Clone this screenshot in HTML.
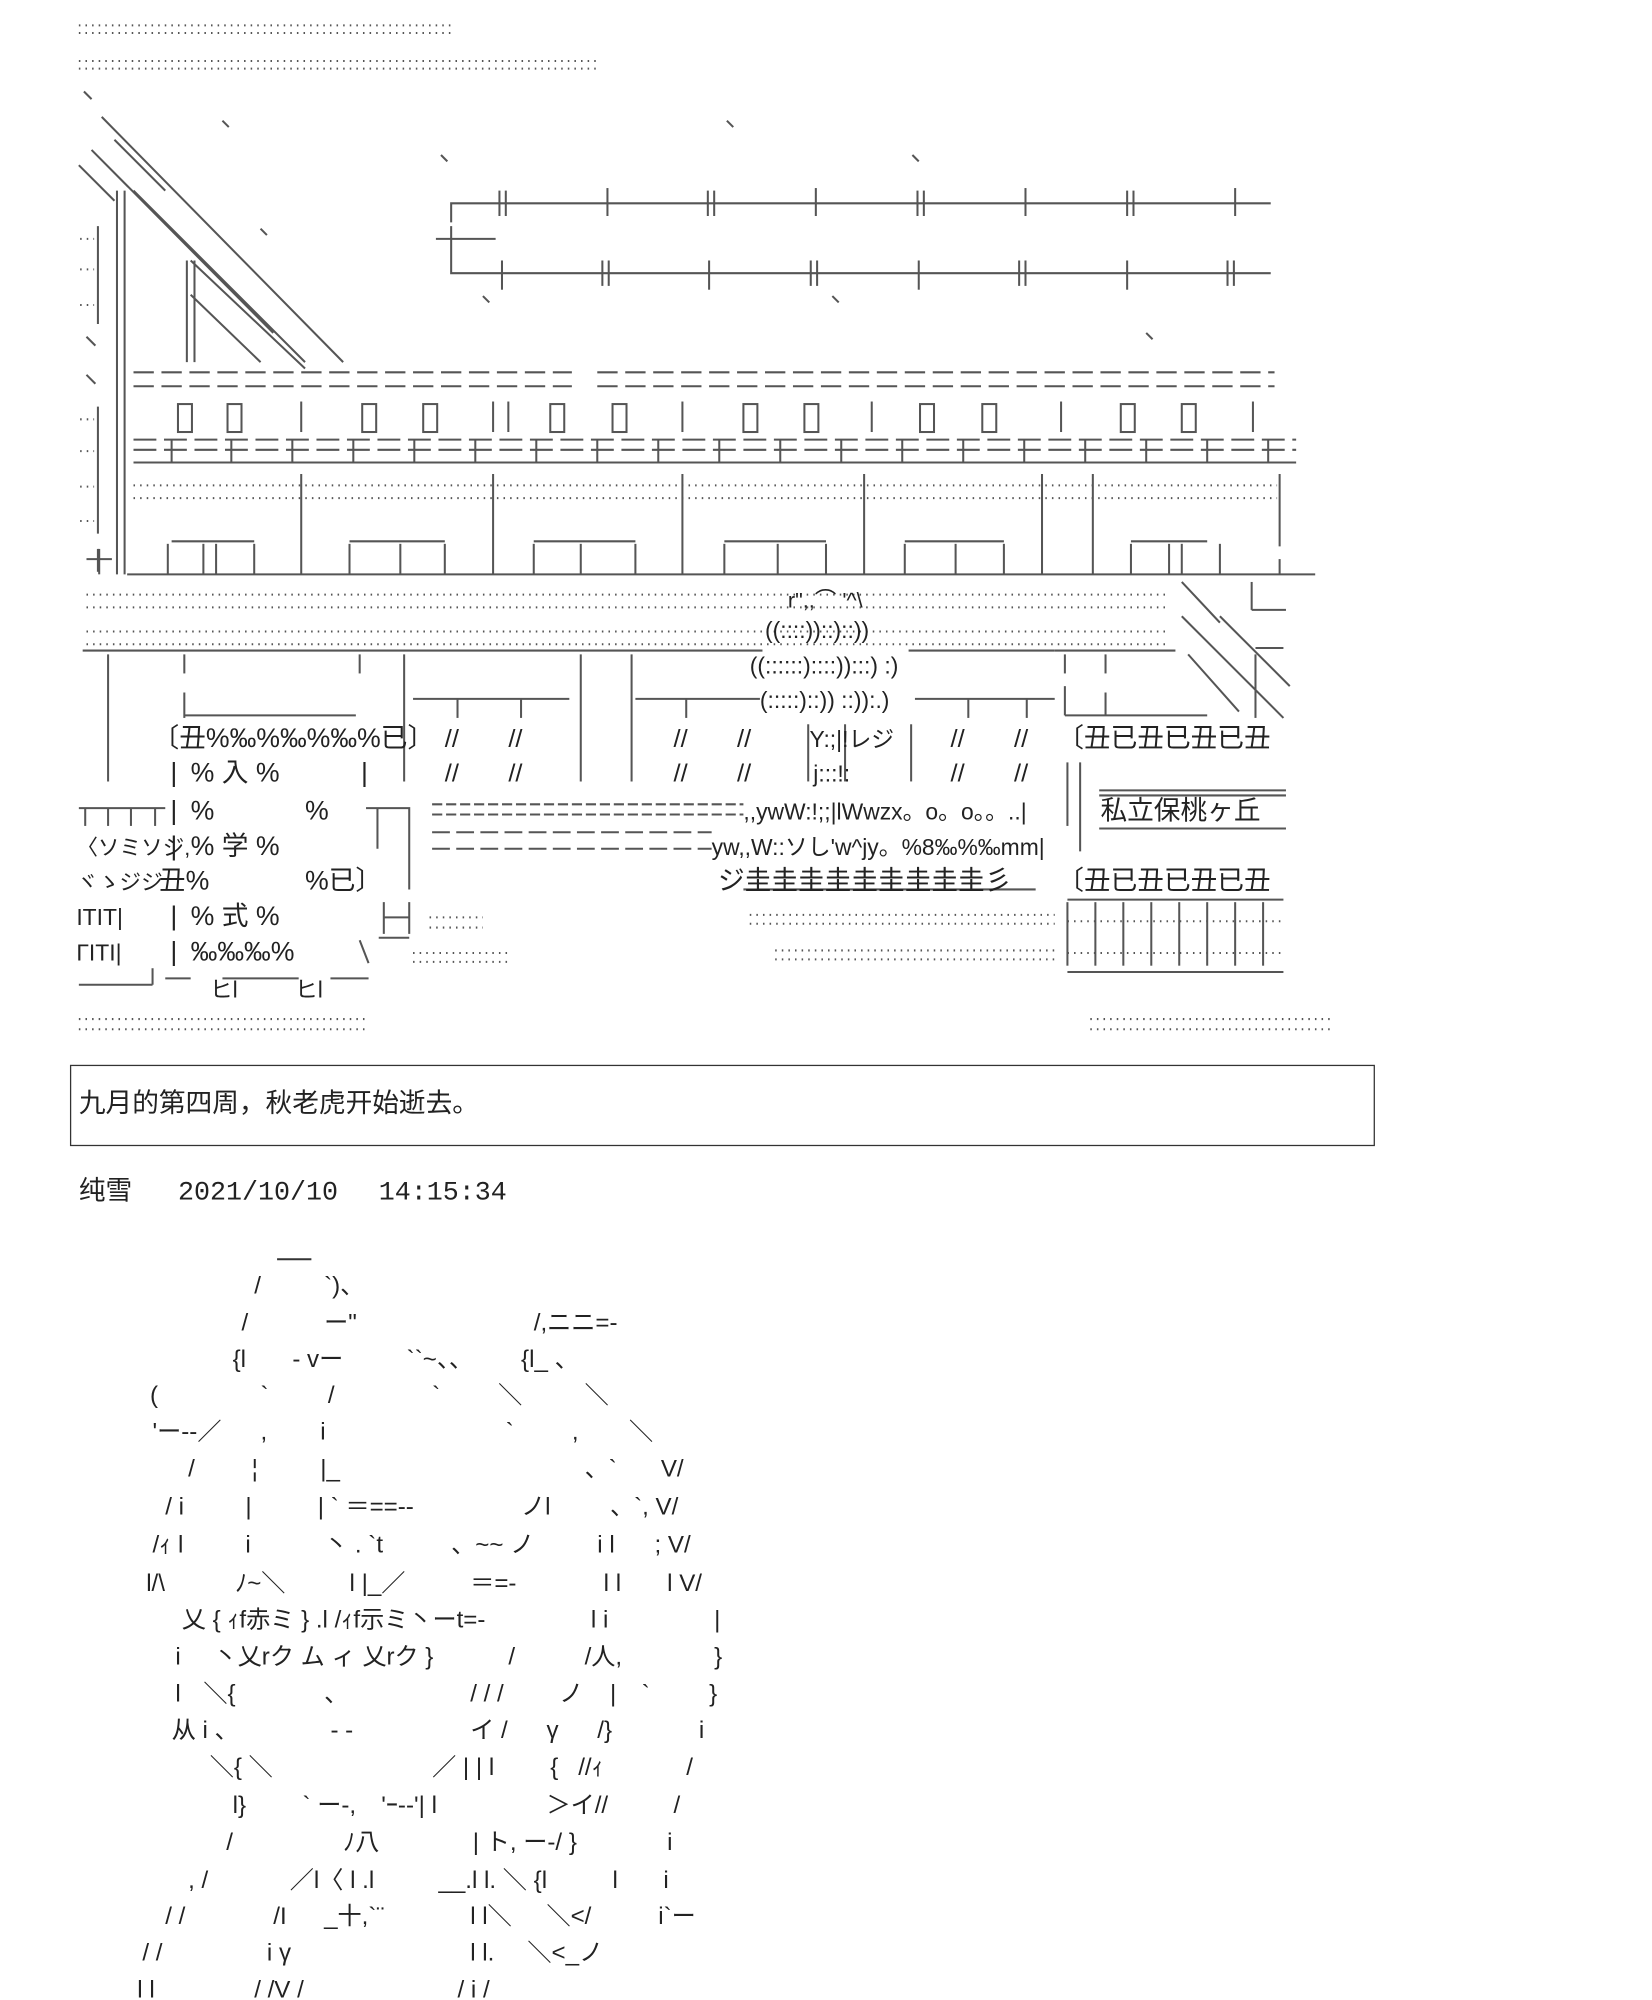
<!DOCTYPE html>
<html><head><meta charset="utf-8"><style>
html,body{margin:0;padding:0;background:#fff;}
svg{display:block;}
text{font-family:"Liberation Sans","Noto Sans CJK JP",sans-serif;fill:#222;}
.m{font-family:"Liberation Mono","Noto Sans CJK SC",monospace;}
.g line,.g path,.g rect{stroke:#555;stroke-width:1.6;fill:none;}
.d{stroke:#888;stroke-width:1.2;stroke-dasharray:1.2 4;}
</style></head><body>
<svg width="1652" height="2000" viewBox="0 0 1300 1574" xmlns="http://www.w3.org/2000/svg">
<g class="g">
<line class="d" x1="62" y1="20" x2="355" y2="20"/><line class="d" x1="62" y1="26" x2="355" y2="26"/>
<line class="d" x1="62" y1="48" x2="470" y2="48"/><line class="d" x1="62" y1="54" x2="470" y2="54"/>
<line x1="80" y1="92" x2="270" y2="285"/><line x1="72" y1="118" x2="215" y2="262"/>
<line x1="62" y1="130" x2="90" y2="158"/><line x1="105" y1="150" x2="240" y2="285"/>
<line x1="90" y1="110" x2="130" y2="150"/>
<line x1="150" y1="205" x2="240" y2="290"/><line x1="150" y1="232" x2="205" y2="285"/>
<line x1="66" y1="72" x2="72" y2="78"/><line x1="175" y1="95" x2="180" y2="100"/><line x1="572" y1="95" x2="577" y2="100"/>
<line x1="347" y1="122" x2="352" y2="127"/><line x1="718" y1="122" x2="723" y2="127"/><line x1="205" y1="180" x2="210" y2="185"/>
<line x1="380" y1="233" x2="385" y2="238"/><line x1="655" y1="233" x2="660" y2="238"/><line x1="902" y1="262" x2="907" y2="267"/>
<line x1="68" y1="265" x2="75" y2="272"/><line x1="68" y1="295" x2="75" y2="302"/>
<line x1="92" y1="150" x2="92" y2="452"/><line x1="98" y1="150" x2="98" y2="452"/>
<line x1="147" y1="205" x2="147" y2="285"/><line x1="153" y1="205" x2="153" y2="285"/>
<line x1="77" y1="178" x2="77" y2="255"/><line x1="77" y1="320" x2="77" y2="420"/>
<line x1="77" y1="432" x2="77" y2="450"/>
<line class="d" x1="63" y1="188" x2="74" y2="188"/><line class="d" x1="63" y1="212" x2="74" y2="212"/><line class="d" x1="63" y1="240" x2="74" y2="240"/>
<line class="d" x1="63" y1="330" x2="74" y2="330"/><line class="d" x1="63" y1="355" x2="74" y2="355"/><line class="d" x1="63" y1="383" x2="74" y2="383"/><line class="d" x1="63" y1="410" x2="74" y2="410"/>
<path d="M355 175 V160 H1000 M355 195 V215 H1000 M343 188 H390 M355 178 V200"/>
<line x1="393" y1="150" x2="393" y2="170"/><line x1="398" y1="150" x2="398" y2="170"/>
<line x1="478" y1="148" x2="478" y2="170"/><line x1="557" y1="150" x2="557" y2="170"/><line x1="562" y1="150" x2="562" y2="170"/>
<line x1="642" y1="148" x2="642" y2="170"/><line x1="722" y1="150" x2="722" y2="170"/><line x1="727" y1="150" x2="727" y2="170"/>
<line x1="807" y1="148" x2="807" y2="170"/><line x1="887" y1="150" x2="887" y2="170"/><line x1="892" y1="150" x2="892" y2="170"/><line x1="972" y1="148" x2="972" y2="170"/>
<line x1="395" y1="205" x2="395" y2="228"/><line x1="474" y1="205" x2="474" y2="225"/><line x1="479" y1="205" x2="479" y2="225"/>
<line x1="558" y1="205" x2="558" y2="228"/><line x1="638" y1="205" x2="638" y2="225"/><line x1="643" y1="205" x2="643" y2="225"/>
<line x1="723" y1="205" x2="723" y2="228"/><line x1="802" y1="205" x2="802" y2="225"/><line x1="807" y1="205" x2="807" y2="225"/>
<line x1="887" y1="205" x2="887" y2="228"/><line x1="966" y1="205" x2="966" y2="225"/><line x1="971" y1="205" x2="971" y2="225"/>
<line x1="105" y1="293" x2="450" y2="293" stroke-dasharray="16 6"/><line x1="105" y1="304" x2="450" y2="304" stroke-dasharray="16 6"/>
<line x1="470" y1="293" x2="1003" y2="293" stroke-dasharray="16 6"/><line x1="470" y1="304" x2="1003" y2="304" stroke-dasharray="16 6"/>
<rect x="140" y="318" width="11" height="22"/><rect x="179" y="318" width="11" height="22"/><rect x="285" y="318" width="11" height="22"/><rect x="333" y="318" width="11" height="22"/>
<rect x="433" y="318" width="11" height="22"/><rect x="482" y="318" width="11" height="22"/><rect x="585" y="318" width="11" height="22"/><rect x="633" y="318" width="11" height="22"/>
<rect x="724" y="318" width="11" height="22"/><rect x="773" y="318" width="11" height="22"/><rect x="882" y="318" width="11" height="22"/><rect x="930" y="318" width="11" height="22"/>
<line x1="237" y1="316" x2="237" y2="340"/><line x1="388" y1="316" x2="388" y2="340"/><line x1="400" y1="316" x2="400" y2="340"/><line x1="537" y1="316" x2="537" y2="340"/>
<line x1="686" y1="316" x2="686" y2="340"/><line x1="835" y1="316" x2="835" y2="340"/><line x1="986" y1="316" x2="986" y2="340"/>
<line x1="105" y1="346" x2="1020" y2="346" stroke-dasharray="18 6"/><line x1="105" y1="354" x2="1020" y2="354" stroke-dasharray="18 6"/><line x1="105" y1="364" x2="1020" y2="364"/>
<line x1="135" y1="346" x2="135" y2="364"/><line x1="182" y1="346" x2="182" y2="364"/><line x1="230" y1="346" x2="230" y2="364"/><line x1="278" y1="346" x2="278" y2="364"/>
<line x1="326" y1="346" x2="326" y2="364"/><line x1="374" y1="346" x2="374" y2="364"/><line x1="422" y1="346" x2="422" y2="364"/><line x1="470" y1="346" x2="470" y2="364"/>
<line x1="518" y1="346" x2="518" y2="364"/><line x1="566" y1="346" x2="566" y2="364"/><line x1="614" y1="346" x2="614" y2="364"/><line x1="662" y1="346" x2="662" y2="364"/>
<line x1="710" y1="346" x2="710" y2="364"/><line x1="758" y1="346" x2="758" y2="364"/><line x1="806" y1="346" x2="806" y2="364"/><line x1="854" y1="346" x2="854" y2="364"/>
<line x1="902" y1="346" x2="902" y2="364"/><line x1="950" y1="346" x2="950" y2="364"/><line x1="998" y1="346" x2="998" y2="364"/>
<line class="d" x1="105" y1="382" x2="1005" y2="382"/><line class="d" x1="105" y1="392" x2="1005" y2="392"/>
<line x1="237" y1="373" x2="237" y2="452"/><line x1="388" y1="373" x2="388" y2="452"/><line x1="537" y1="373" x2="537" y2="452"/><line x1="680" y1="373" x2="680" y2="452"/>
<line x1="820" y1="373" x2="820" y2="452"/><line x1="860" y1="373" x2="860" y2="452"/><line x1="1007" y1="373" x2="1007" y2="430"/>
<line x1="135" y1="426" x2="200" y2="426"/><line x1="275" y1="426" x2="350" y2="426"/><line x1="420" y1="426" x2="500" y2="426"/><line x1="570" y1="426" x2="650" y2="426"/><line x1="712" y1="426" x2="790" y2="426"/><line x1="890" y1="426" x2="950" y2="426"/>
<line x1="100" y1="452" x2="1035" y2="452"/>
<line x1="132" y1="428" x2="132" y2="452"/><line x1="160" y1="428" x2="160" y2="452"/><line x1="170" y1="428" x2="170" y2="452"/><line x1="200" y1="428" x2="200" y2="452"/>
<line x1="275" y1="428" x2="275" y2="452"/><line x1="315" y1="428" x2="315" y2="452"/><line x1="350" y1="428" x2="350" y2="452"/>
<line x1="420" y1="428" x2="420" y2="452"/><line x1="457" y1="428" x2="457" y2="452"/><line x1="500" y1="428" x2="500" y2="452"/>
<line x1="570" y1="428" x2="570" y2="452"/><line x1="612" y1="428" x2="612" y2="452"/><line x1="650" y1="428" x2="650" y2="452"/>
<line x1="712" y1="428" x2="712" y2="452"/><line x1="752" y1="428" x2="752" y2="452"/><line x1="790" y1="428" x2="790" y2="452"/>
<line x1="890" y1="428" x2="890" y2="452"/><line x1="920" y1="428" x2="920" y2="452"/><line x1="930" y1="428" x2="930" y2="452"/><line x1="960" y1="428" x2="960" y2="452"/><line x1="1007" y1="440" x2="1007" y2="452"/>
<line x1="68" y1="440" x2="88" y2="440"/><line x1="78" y1="432" x2="78" y2="452"/>
<line class="d" x1="68" y1="468" x2="920" y2="468"/><line class="d" x1="68" y1="478" x2="920" y2="478"/>
<line class="d" x1="68" y1="497" x2="920" y2="497"/><line class="d" x1="68" y1="507" x2="920" y2="507"/>
<line x1="930" y1="458" x2="960" y2="490"/><line x1="930" y1="485" x2="1010" y2="565"/><line x1="960" y1="485" x2="1015" y2="540"/><line x1="935" y1="515" x2="975" y2="560"/>
<line x1="985" y1="458" x2="985" y2="480"/><line x1="985" y1="480" x2="1012" y2="480"/><line x1="988" y1="510" x2="1010" y2="510"/><line x1="988" y1="515" x2="988" y2="565"/>
<line x1="65" y1="512" x2="600" y2="512"/><line x1="715" y1="512" x2="830" y2="512"/><line x1="830" y1="512" x2="925" y2="512"/>
<line x1="85" y1="515" x2="85" y2="615"/><line x1="145" y1="515" x2="145" y2="530"/><line x1="145" y1="545" x2="145" y2="565"/>
<line x1="283" y1="515" x2="283" y2="530"/><line x1="318" y1="515" x2="318" y2="615"/><line x1="457" y1="515" x2="457" y2="615"/><line x1="497" y1="515" x2="497" y2="615"/>
<line x1="838" y1="515" x2="838" y2="530"/><line x1="870" y1="515" x2="870" y2="530"/><line x1="838" y1="540" x2="838" y2="563"/><line x1="838" y1="563" x2="950" y2="563"/><line x1="870" y1="545" x2="870" y2="563"/>
<line x1="145" y1="563" x2="280" y2="563"/>
<line x1="325" y1="550" x2="448" y2="550"/><line x1="360" y1="550" x2="360" y2="565"/><line x1="410" y1="550" x2="410" y2="565"/>
<line x1="500" y1="550" x2="598" y2="550"/><line x1="540" y1="550" x2="540" y2="565"/><line x1="720" y1="550" x2="830" y2="550"/><line x1="762" y1="550" x2="762" y2="565"/><line x1="808" y1="550" x2="808" y2="565"/>
<line x1="636" y1="570" x2="636" y2="615"/><line x1="665" y1="570" x2="665" y2="615"/><line x1="717" y1="570" x2="717" y2="615"/><line x1="840" y1="600" x2="840" y2="650"/><line x1="850" y1="600" x2="850" y2="670"/>
<line x1="340" y1="633" x2="585" y2="633" stroke-dasharray="8 3"/><line x1="340" y1="641" x2="585" y2="641" stroke-dasharray="8 3"/>
<line x1="340" y1="655" x2="560" y2="655" stroke-dasharray="14 5"/><line x1="340" y1="668" x2="560" y2="668" stroke-dasharray="14 5"/>
<line x1="865" y1="622" x2="1012" y2="622"/><line x1="865" y1="652" x2="1012" y2="652"/><line x1="865" y1="626" x2="1012" y2="626"/>
<line x1="585" y1="700" x2="815" y2="700"/>
<line x1="62" y1="636" x2="130" y2="636" stroke-width="2.6"/><line x1="67" y1="636" x2="67" y2="650"/><line x1="85" y1="636" x2="85" y2="650"/><line x1="103" y1="636" x2="103" y2="650"/><line x1="122" y1="636" x2="122" y2="650"/>
<path d="M288 636 H322 V700 M297 636 V668" stroke-width="2.4"/><path d="M302 710 V735 M322 710 V735 M302 722 H322" stroke-width="2.4"/>
<line x1="298" y1="738" x2="322" y2="738"/><line x1="283" y1="740" x2="290" y2="758"/>
<line x1="62" y1="775" x2="120" y2="775"/><line x1="120" y1="762" x2="120" y2="775"/>
<line x1="130" y1="770" x2="150" y2="770"/><line x1="175" y1="770" x2="235" y2="770"/><line x1="260" y1="770" x2="290" y2="770"/>
<line x1="840" y1="708" x2="1010" y2="708"/><line x1="840" y1="765" x2="1010" y2="765"/>
<line x1="840" y1="710" x2="840" y2="760"/><line x1="862" y1="710" x2="862" y2="760"/><line x1="884" y1="710" x2="884" y2="760"/><line x1="906" y1="710" x2="906" y2="760"/><line x1="928" y1="710" x2="928" y2="760"/><line x1="950" y1="710" x2="950" y2="760"/><line x1="972" y1="710" x2="972" y2="760"/><line x1="994" y1="710" x2="994" y2="760"/>
<line class="d" x1="590" y1="720" x2="830" y2="720"/><line class="d" x1="590" y1="727" x2="830" y2="727"/><line class="d" x1="610" y1="748" x2="830" y2="748"/><line class="d" x1="610" y1="755" x2="830" y2="755"/>
<line class="d" x1="840" y1="725" x2="1010" y2="725"/><line class="d" x1="840" y1="750" x2="1010" y2="750"/>
<line class="d" x1="338" y1="722" x2="380" y2="722"/><line class="d" x1="338" y1="730" x2="380" y2="730"/><line class="d" x1="325" y1="750" x2="400" y2="750"/><line class="d" x1="325" y1="757" x2="400" y2="757"/>
<line class="d" x1="62" y1="802" x2="290" y2="802"/><line class="d" x1="62" y1="810" x2="290" y2="810"/><line class="d" x1="858" y1="802" x2="1050" y2="802"/><line class="d" x1="858" y1="810" x2="1050" y2="810"/>
</g>
<g font-size="21">
<text x="120" y="588">〔丑%‰%‰%‰%已〕</text>
<text x="150" y="615">%  入  %</text><text x="150" y="645">%</text><text x="240" y="645">%</text><text x="150" y="673">%  学  %</text>
<text x="125" y="700">丑%</text><text x="240" y="700">%已〕</text><text x="150" y="728">%  式  %</text><text x="150" y="756">‰‰‰%</text>
<text x="165" y="785" font-size="18">ヒl</text><text x="232" y="785" font-size="18">ヒl</text>
<text x="134" y="615">|</text><text x="284" y="615">|</text><text x="134" y="645">|</text><text x="134" y="673">|</text><text x="134" y="728">|</text><text x="134" y="756">|</text>
<text x="60" y="673" font-size="17">〈ソミソジ,</text><text x="60" y="700" font-size="17">ヾゝジジ</text>
<text x="60" y="728" font-size="18">ΙΤΙΤ|</text><text x="60" y="756" font-size="18">ΓΙΤΙ|</text>
<text x="350" y="588" font-size="20">//</text><text x="400" y="588" font-size="20">//</text><text x="350" y="615" font-size="20">//</text><text x="400" y="615" font-size="20">//</text>
<text x="530" y="588" font-size="20">//</text><text x="580" y="588" font-size="20">//</text><text x="530" y="615" font-size="20">//</text><text x="580" y="615" font-size="20">//</text>
<text x="748" y="588" font-size="20">//</text><text x="798" y="588" font-size="20">//</text><text x="748" y="615" font-size="20">//</text><text x="798" y="615" font-size="20">//</text>
<text x="637" y="588" font-size="18">Y:;|!レジ</text><text x="640" y="615" font-size="18">j:::!:</text>
<text x="832" y="588">〔丑已丑已丑已丑</text>
<text x="866" y="645">私立保桃ヶ丘</text>
<text x="832" y="700">〔丑已丑已丑已丑</text>
<text x="565" y="700">ジ圭圭圭圭圭圭圭圭圭彡</text>
<text x="585" y="645" font-size="18">,,ywW:!;;|lWwzx。o。o。。..|</text>
<text x="560" y="673" font-size="18">yw,,W::ソし'w^jy。%8‰%‰mm|</text>
<text x="620" y="478" font-size="17">r",,⌒ '^\</text>
<text x="602" y="502" font-size="18">((::::))::)::))</text>
<text x="590" y="530" font-size="18">((::::::)::::)):::) :)</text>
<text x="598" y="557" font-size="18">(:::::)::))  ::)):.)</text>
</g>
<rect x="55.5" y="838.5" width="1026" height="63" fill="none" stroke="#333" stroke-width="1"/>
<text x="62" y="875" font-size="21">九月的第四周，秋老虎开始逝去。</text>
<text x="62" y="944" font-size="21">纯雪</text>
<text class="m" x="140" y="944" font-size="21">2021/10/10</text>
<text class="m" x="298" y="944" font-size="21">14:15:34</text>
<g font-size="19">
<line x1="218" y1="991" x2="245" y2="991" stroke="#333" stroke-width="1.6"/>
<text x="200" y="1018">/</text><text x="255" y="1018">`)、</text>
<text x="190" y="1047">/</text><text x="255" y="1047">ー"</text><text x="420" y="1047">/,ニニ=-</text>
<text x="183" y="1076">{l</text><text x="230" y="1076">- vー</text><text x="320" y="1076">``~、、</text><text x="410" y="1076">{l_  、</text>
<text x="118" y="1104">(</text><text x="205" y="1104">`</text><text x="258" y="1104">/</text><text x="340" y="1104">`</text><text x="392" y="1104">＼</text><text x="460" y="1104">＼</text>
<text x="120" y="1133">'ー--／</text><text x="205" y="1133">,</text><text x="252" y="1133">i</text><text x="398" y="1133">`</text><text x="450" y="1133">,</text><text x="495" y="1133">＼</text>
<text x="148" y="1162">/</text><text x="198" y="1162">¦</text><text x="252" y="1162">|_</text><text x="460" y="1162">、`</text><text x="520" y="1162">V/</text>
<text x="130" y="1192">/ i</text><text x="193" y="1192">|</text><text x="250" y="1192">| ` ＝==--</text><text x="410" y="1192">ノl</text><text x="480" y="1192">、`, V/</text>
<text x="120" y="1222">/ｨ l</text><text x="193" y="1222">i</text><text x="255" y="1222">丶 . `t</text><text x="355" y="1222">、~~ ノ</text><text x="470" y="1222">i l</text><text x="515" y="1222">; V/</text>
<text x="115" y="1252">l/\</text><text x="185" y="1252">ﾉ~＼</text><text x="275" y="1252">l |_／</text><text x="370" y="1252">＝=-</text><text x="475" y="1252">l l</text><text x="525" y="1252">l V/</text>
<text x="143" y="1281">乂 { ｨf赤ミ } .l /ｨf示ミ丶ーt=-</text><text x="465" y="1281">l i</text><text x="562" y="1281">|</text>
<text x="138" y="1310">i</text><text x="168" y="1310">丶乂rク ム ィ 乂rク  }</text><text x="400" y="1310">/</text><text x="460" y="1310">/人,</text><text x="562" y="1310">}</text>
<text x="138" y="1339">l</text><text x="160" y="1339">＼{</text><text x="255" y="1339">、</text><text x="370" y="1339">/ / /</text><text x="440" y="1339">ノ</text><text x="480" y="1339">|</text><text x="505" y="1339">`</text><text x="558" y="1339">}</text>
<text x="135" y="1368">从 i 、</text><text x="260" y="1368">- -</text><text x="370" y="1368">イ /</text><text x="430" y="1368">γ</text><text x="470" y="1368">/}</text><text x="550" y="1368">i</text>
<text x="165" y="1397">＼{ ＼</text><text x="340" y="1397">／ | | l</text><text x="433" y="1397">{</text><text x="455" y="1397">//ｨ</text><text x="540" y="1397">/</text>
<text x="183" y="1427">l}</text><text x="238" y="1427">` ー-,</text><text x="300" y="1427">'ｰ--'| l</text><text x="430" y="1427">＞イ//</text><text x="530" y="1427">/</text>
<text x="178" y="1456">/</text><text x="270" y="1456">ﾉ八</text><text x="372" y="1456">| ト, ー-/ }</text><text x="525" y="1456">i</text>
<text x="148" y="1486">, /</text><text x="228" y="1486">／l〈 l .l</text><text x="345" y="1486">__.l l. ＼ {l</text><text x="482" y="1486">l</text><text x="522" y="1486">i</text>
<text x="130" y="1514">/ /</text><text x="215" y="1514">/I</text><text x="255" y="1514">_十,`¨</text><text x="370" y="1514">l l＼</text><text x="430" y="1514">＼&lt;/</text><text x="518" y="1514">i`ー</text>
<text x="112" y="1543">/ /</text><text x="210" y="1543">i γ</text><text x="370" y="1543">l l.</text><text x="415" y="1543">＼&lt;_ノ</text>
<text x="108" y="1572">l l</text><text x="200" y="1572">/ /V /</text><text x="360" y="1572">/ i /</text>
</g>
</svg>
</body></html>
